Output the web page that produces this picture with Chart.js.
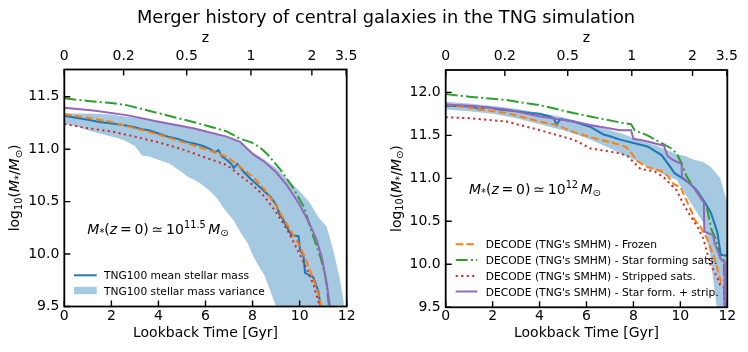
<!DOCTYPE html>
<html>
<head>
<meta charset="utf-8">
<script src="https://cdn.jsdelivr.net/npm/chart.js@4.4.0/dist/chart.umd.min.js"></script>
<style>
html,body{margin:0;padding:0;background:#fff;}
#wrap{position:relative;width:748px;height:352px;overflow:hidden;background:#fff;}
canvas{position:absolute;top:0;}
#title{position:absolute;left:0;width:772px;top:8px;text-align:center;font-family:'DejaVu Sans';font-size:17.8px;line-height:17.8px;color:#000;white-space:nowrap;z-index:5;}
</style>
</head>
<body>
<div id="wrap">
<canvas id="c1" width="374" height="352" style="left:0px"></canvas>
<canvas id="c2" width="374" height="352" style="left:374px"></canvas>
<div id="title">Merger history of central galaxies in the TNG simulation</div>
</div>
<script>
// ---------------- axis ticks ----------------
const xTicks = [0, 2, 4, 6, 8, 10, 12];
const zTickTimes = [0, 2.52, 5.2, 7.93, 10.52, 11.98];
const zTickLabels = ['0', '0.2', '0.5', '1', '2', '3.5'];
const yTicksL = [9.5, 10.0, 10.5, 11.0, 11.5];
const yTicksR = [9.5, 10.0, 10.5, 11.0, 11.5, 12.0];

// ---------------- left panel: M*(z=0) ~ 10^11.5 ----------------
const L_meanT = [0, 0.5, 1.0, 1.5, 2.0, 2.5, 3.0, 3.3, 3.6, 4.0, 4.4, 4.8, 5.2, 5.6, 5.9, 6.2, 6.4, 6.55, 6.7, 6.9, 7.1, 7.2, 7.35, 7.6, 7.9, 8.2, 8.5, 8.75, 9.0, 9.15, 9.3, 9.45, 9.65, 9.95, 10.02, 10.16, 10.23, 10.58, 10.8, 10.95];
const L_meanM = [11.32, 11.30, 11.28, 11.26, 11.245, 11.23, 11.21, 11.19, 11.18, 11.15, 11.12, 11.10, 11.07, 11.05, 11.03, 11.00, 10.97, 10.99, 10.93, 10.90, 10.86, 10.82, 10.86, 10.79, 10.72, 10.66, 10.60, 10.55, 10.47, 10.38, 10.33, 10.26, 10.18, 10.17, 10.04, 9.99, 9.82, 9.78, 9.64, 9.40];
const L_frozenT = [0, 1, 2, 3, 4, 5, 6, 6.9, 7.47, 8.0, 8.5, 9.0, 9.5, 10.0, 10.3, 10.6, 10.8, 11.0];
const L_frozenM = [11.335, 11.30, 11.26, 11.20, 11.14, 11.07, 11.00, 10.93, 10.83, 10.74, 10.62, 10.46, 10.27, 10.08, 9.93, 9.75, 9.62, 9.42];
const L_sfT = [0, 1, 2, 2.65, 4.07, 5.48, 6.9, 7.47, 8.0, 8.3, 8.6, 9.2, 9.7, 10.2, 10.5, 10.9, 11.1, 11.25, 11.3];
const L_sfM = [11.485, 11.46, 11.44, 11.42, 11.34, 11.26, 11.17, 11.10, 11.06, 11.02, 10.96, 10.80, 10.64, 10.44, 10.22, 9.96, 9.78, 9.50, 9.40];
const L_stripT = [0, 1, 2, 3, 4, 5, 6, 6.9, 7.47, 8.0, 8.5, 9.0, 9.5, 10.0, 10.3, 10.6, 10.85, 10.95];
const L_stripM = [11.24, 11.20, 11.17, 11.12, 11.065, 11.00, 10.92, 10.85, 10.75, 10.66, 10.55, 10.40, 10.22, 10.00, 9.86, 9.70, 9.50, 9.40];
const L_sfstT = [0, 1.23, 2.65, 4.07, 5.48, 6.9, 7.47, 8.03, 8.5, 9.0, 9.45, 10.0, 10.4, 10.73, 10.94, 11.15, 11.29, 11.35];
const L_sfstM = [11.395, 11.37, 11.325, 11.26, 11.20, 11.12, 11.07, 10.95, 10.88, 10.78, 10.66, 10.47, 10.30, 10.13, 9.97, 9.72, 9.50, 9.40];
const L_bandT = [0, 0.5, 1, 1.5, 2, 2.5, 3, 3.3, 3.6, 4, 4.5, 5, 5.3, 5.5, 5.8, 6.2, 6.5, 6.7, 6.9, 7.2, 7.5, 7.8, 8, 8.3, 8.5, 8.75, 9, 9.5, 10, 10.4, 10.8, 11.15, 11.45, 11.72, 11.9, 12];
const L_bandHi = [11.34, 11.34, 11.34, 11.335, 11.33, 11.315, 11.30, 11.29, 11.275, 11.26, 11.24, 11.22, 11.205, 11.195, 11.18, 11.16, 11.14, 11.125, 11.11, 11.09, 11.06, 11.01, 10.97, 10.93, 10.90, 10.86, 10.82, 10.71, 10.60, 10.50, 10.35, 10.26, 10.02, 9.75, 9.50, 9.35];
const L_bandLo = [11.24, 11.22, 11.18, 11.15, 11.12, 11.09, 11.03, 10.94, 10.93, 10.90, 10.86, 10.78, 10.73, 10.71, 10.67, 10.60, 10.53, 10.46, 10.40, 10.32, 10.20, 10.10, 9.99, 9.87, 9.80, 9.65, 9.50, 9.20, 9.00, 9.00, 9.00, 9.00, 9.00, 9.00, 9.00, 9.00];

// ---------------- right panel: M*(z=0) ~ 10^12 ----------------
const R_meanT = [0, 0.7, 1.2, 1.46, 1.7, 2.3, 3.0, 3.6, 4.0, 4.44, 4.6, 4.73, 4.87, 5.44, 6.15, 6.72, 7.0, 7.43, 8.0, 8.6, 9.2, 9.5, 9.75, 10.1, 10.4, 10.7, 11.0, 11.3, 11.58, 11.72, 12.0];
const R_meanM = [11.84, 11.84, 11.83, 11.80, 11.83, 11.80, 11.78, 11.76, 11.75, 11.72, 11.70, 11.62, 11.69, 11.66, 11.60, 11.51, 11.49, 11.45, 11.41, 11.37, 11.27, 11.16, 11.06, 11.00, 10.94, 10.86, 10.74, 10.60, 10.37, 10.11, 10.10];
const R_frozenT = [0, 1, 2.6, 4.02, 4.73, 5.44, 6.15, 7.43, 7.7, 7.9, 8.17, 8.6, 9.16, 9.45, 9.73, 10.0, 10.3, 10.5, 10.6, 10.85, 11.15, 11.43, 11.55, 11.72, 11.85, 11.9];
const R_frozenM = [11.86, 11.82, 11.76, 11.66, 11.62, 11.54, 11.48, 11.39, 11.36, 11.30, 11.20, 11.13, 11.09, 11.03, 10.93, 10.90, 10.72, 10.60, 10.52, 10.44, 10.29, 10.09, 9.98, 9.80, 9.78, 9.40];
const R_sfT = [0, 1, 2.6, 4.02, 5.44, 6.15, 7.43, 7.9, 8.05, 8.6, 9.13, 9.6, 9.84, 10.06, 10.27, 10.55, 10.84, 11.12, 11.33, 11.5, 11.72, 11.85, 11.9];
const R_sfM = [11.98, 11.95, 11.91, 11.85, 11.76, 11.72, 11.65, 11.63, 11.56, 11.50, 11.42, 11.35, 11.29, 11.17, 11.02, 10.90, 10.79, 10.67, 10.40, 10.30, 10.05, 10.05, 9.40];
const R_stripT = [0, 1, 2.6, 4.02, 5.44, 6.15, 7.43, 7.74, 8.0, 8.3, 8.9, 9.3, 9.84, 10.13, 10.41, 10.7, 10.98, 11.26, 11.55, 11.7, 11.85, 11.9];
const R_stripM = [11.71, 11.70, 11.66, 11.56, 11.45, 11.35, 11.29, 11.26, 11.19, 11.11, 11.08, 11.01, 10.86, 10.70, 10.57, 10.45, 10.30, 10.01, 9.86, 9.76, 9.74, 9.40];
const R_sfstT = [0, 1.2, 2.6, 4.02, 5.44, 6.15, 7.43, 7.9, 8.0, 8.42, 9.3, 9.45, 9.7, 10.05, 10.07, 10.55, 11.0, 11.02, 11.4, 11.45, 11.75, 11.88, 11.9];
const R_sfstM = [11.86, 11.84, 11.80, 11.72, 11.66, 11.62, 11.56, 11.56, 11.46, 11.44, 11.38, 11.26, 11.21, 11.17, 11.02, 10.90, 10.72, 10.38, 10.34, 10.25, 10.05, 10.03, 9.40];
const R_bandT = [0, 1, 2, 3, 4, 5, 6, 7, 7.5, 8, 8.5, 9, 9.5, 9.85, 10.2, 10.55, 10.98, 11.26, 11.4, 11.55, 11.7, 12];
const R_bandHi = [11.89, 11.87, 11.84, 11.81, 11.76, 11.71, 11.64, 11.56, 11.52, 11.47, 11.42, 11.38, 11.32, 11.28, 11.26, 11.22, 11.19, 11.14, 11.10, 11.05, 11.00, 10.72];
const R_bandLo = [11.80, 11.78, 11.75, 11.70, 11.63, 11.56, 11.47, 11.35, 11.28, 11.22, 11.15, 11.08, 11.02, 10.98, 10.82, 10.67, 10.48, 10.13, 9.82, 9.50, 9.30, 9.20];

// ---------------- styles ----------------
const C = {blue:'#1f77b4', orange:'#ff7f0e', green:'#2ca02c', red:'#d62728', purple:'#9467bd', band:'rgba(31,119,180,0.4)'};
const DASH = {solid:[], dashed:[7.5,3.2], dashdot:[12,3.2,2,3.2], dotted:[2.1,3.4]};
const FONT = "'DejaVu Sans'";
Chart.defaults.font.family = FONT;
Chart.defaults.color = '#000';

function pts(t, m){ return t.map((v,i)=>({x:v, y:m[i]})); }
function lineDs(label, t, m, color, dash){
  return {label, data: pts(t,m), borderColor: color, borderWidth: 2, borderDash: dash,
          pointRadius: 0, fill: false, tension: 0, clip: 0};
}

function drawMath(ctx, parts, x, y, size, measureOnly){
  let cx = x;
  for (const p of parts){
    if (p.gap) cx += p.gap*size;
    const s = (p.sub||p.sup) ? size*0.7 : size;
    ctx.font = (p.it ? 'italic ' : '') + s + 'px ' + FONT;
    const dy = p.sub ? 0.2*size : (p.sup ? -0.42*size : 0);
    if (!measureOnly) ctx.fillText(p.t, cx, y+dy);
    cx += ctx.measureText(p.t).width;
  }
  return cx - x;
}

const yTitleParts = [{t:'log'},{t:'10',sub:true},{t:'('},{t:'M',it:true},{t:'*',sub:true},{t:'/'},{t:'M',it:true},{t:'⊙',sub:true},{t:')'}];

function makePanel(id, P){
  const datasets = [
    lineDs('sfst', P.sfst[0], P.sfst[1], C.purple, DASH.solid),
    lineDs('strip', P.strip[0], P.strip[1], C.red, DASH.dotted),
    lineDs('sf', P.sf[0], P.sf[1], C.green, DASH.dashdot),
    lineDs('frozen', P.frozen[0], P.frozen[1], C.orange, DASH.dashed),
    lineDs('mean', P.mean[0], P.mean[1], C.blue, DASH.solid),
    {label:'bandHi', data: pts(P.band[0], P.band[1]), borderWidth:0, pointRadius:0, fill:'+1', backgroundColor:C.band, borderColor:'rgba(0,0,0,0)', tension:0},
    {label:'bandLo', data: pts(P.band[0], P.band[2]), borderWidth:0, pointRadius:0, fill:false, borderColor:'rgba(0,0,0,0)', tension:0}
  ];
  const deco = {
    id: 'deco'+id,
    afterDraw(chart){
      const ctx = chart.ctx, a = chart.chartArea;
      const sx = chart.scales.x, sy = chart.scales.y, sz = chart.scales.z;
      ctx.save();
      ctx.strokeStyle = '#000'; ctx.setLineDash([]);
      // inward ticks
      ctx.lineWidth = 1.4;
      ctx.beginPath();
      xTicks.forEach(v=>{ const p = sx.getPixelForValue(v); ctx.moveTo(p, a.bottom); ctx.lineTo(p, a.bottom-6); });
      zTickTimes.forEach(v=>{ const p = sz.getPixelForValue(v); ctx.moveTo(p, a.top); ctx.lineTo(p, a.top+6); });
      P.yTicks.forEach(v=>{ const p = sy.getPixelForValue(v); ctx.moveTo(a.left, p); ctx.lineTo(a.left+6, p); });
      ctx.stroke();
      // spines
      ctx.lineWidth = 1.8;
      ctx.strokeRect(a.left, a.top, a.right-a.left, a.bottom-a.top);
      // y title
      ctx.fillStyle = '#000';
      ctx.textBaseline = 'alphabetic'; ctx.textAlign = 'left';
      const w = drawMath(ctx, yTitleParts, 0, 0, 14, true);
      ctx.save();
      ctx.translate(P.yTitleX, (a.top+a.bottom)/2);
      ctx.rotate(-Math.PI/2);
      drawMath(ctx, yTitleParts, -w/2, 0, 14);
      ctx.restore();
      // annotation
      drawMath(ctx, P.note, P.noteX, P.noteY, 14);
      // legend
      P.legendItems.forEach((it, i)=>{
        const by = P.legY[i];
        const hy = by - 4;
        if (it.patch){
          ctx.fillStyle = C.band;
          ctx.fillRect(P.legX0, hy-3.7, P.legX1-P.legX0, 7.4);
        } else {
          ctx.strokeStyle = it.color; ctx.lineWidth = 2; ctx.setLineDash(it.dash);
          ctx.beginPath(); ctx.moveTo(P.legX0, hy); ctx.lineTo(P.legX1, hy); ctx.stroke();
          ctx.setLineDash([]);
        }
        ctx.fillStyle = '#000';
        ctx.font = '10.7px ' + FONT;
        ctx.fillText(it.text, P.legTextX, by);
      });
      ctx.restore();
    }
  };
  return new Chart(document.getElementById(id), {
    type: 'line',
    data: { datasets },
    options: {
      responsive: false, animation: false, devicePixelRatio: 1,
      layout: { padding: { left: 0, right: P.padRight, top: 0, bottom: 0 } },
      plugins: { legend: { display: false }, tooltip: { enabled: false }, title: { display: false } },
      scales: {
        x: { type: 'linear', position: 'bottom', min: 0, max: 12,
             afterBuildTicks: s => { s.ticks = xTicks.map(v=>({value:v})); },
             ticks: { autoSkip: false, minRotation: 0, maxRotation: 0, padding: 1, font: { size: 14 }, color: '#000', callback: v => String(v) },
             grid: { display: false, drawTicks: false, tickLength: 0 }, border: { display: false },
             title: { display: true, text: 'Lookback Time [Gyr]', font: { size: 14 }, color: '#000', padding: { top: 0, bottom: 10 } },
             afterFit: s => { s.height = P.bottomH; } },
        z: { type: 'linear', position: 'top', min: 0, max: 12,
             afterBuildTicks: s => { s.ticks = zTickTimes.map(v=>({value:v})); },
             ticks: { autoSkip: false, minRotation: 0, maxRotation: 0, padding: 5, font: { size: 14 }, color: '#000', callback: (v, i) => zTickLabels[i] },
             grid: { display: false, drawTicks: false, tickLength: 0 }, border: { display: false },
             title: { display: true, text: 'z', font: { size: 14 }, color: '#000', padding: { top: 29.5, bottom: 0 } },
             afterFit: s => { s.height = P.topH; } },
        y: { type: 'linear', position: 'left', min: P.yMin, max: P.yMax,
             afterBuildTicks: s => { s.ticks = P.yTicks.map(v=>({value:v})); },
             ticks: { autoSkip: false, padding: 5, font: { size: 14 }, color: '#000', callback: v => v.toFixed(1) },
             grid: { display: false, drawTicks: false, tickLength: 0 }, border: { display: false },
             afterFit: s => { s.width = P.areaLeft; } }
      }
    },
    plugins: [deco]
  });
}

makePanel('c1', {
  mean:[L_meanT,L_meanM], frozen:[L_frozenT,L_frozenM], sf:[L_sfT,L_sfM], strip:[L_stripT,L_stripM], sfst:[L_sfstT,L_sfstM],
  band:[L_bandT,L_bandHi,L_bandLo],
  yMin: 9.5, yMax: 11.76, yTicks: yTicksL,
  areaLeft: 64.3, padRight: 27.3, topH: 69.5, bottomH: 45.5,
  yTitleX: 19,
  note: [{t:'M',it:true},{t:'*',sub:true},{t:'('},{t:'z',it:true},{t:'=',gap:0.2},{t:'0',gap:0.2},{t:')'},{t:'≃',gap:0.2},{t:'10',gap:0.2},{t:'11.5',sup:true},{t:'M',it:true,gap:0.17},{t:'⊙',sub:true}],
  noteX: 87.3, noteY: 233.5,
  legX0: 74, legX1: 96.7, legTextX: 104, legY: [279.3, 294.5],
  legendItems: [
    {text:'TNG100 mean stellar mass', color:C.blue, dash:DASH.solid},
    {text:'TNG100 stellar mass variance', patch:true}
  ]
});

makePanel('c2', {
  mean:[R_meanT,R_meanM], frozen:[R_frozenT,R_frozenM], sf:[R_sfT,R_sfM], strip:[R_stripT,R_stripM], sfst:[R_sfstT,R_sfstM],
  band:[R_bandT,R_bandHi,R_bandLo],
  yMin: 9.5, yMax: 12.26, yTicks: yTicksR,
  areaLeft: 71.7, padRight: 20.7, topH: 70, bottomH: 44.7,
  yTitleX: 26.5,
  note: [{t:'M',it:true},{t:'*',sub:true},{t:'('},{t:'z',it:true},{t:'=',gap:0.2},{t:'0',gap:0.2},{t:')'},{t:'≃',gap:0.2},{t:'10',gap:0.2},{t:'12',sup:true},{t:'M',it:true,gap:0.17},{t:'⊙',sub:true}],
  noteX: 95, noteY: 193.5,
  legX0: 81.7, legX1: 103.3, legTextX: 111.7, legY: [248.3, 264, 280, 295.5],
  legendItems: [
    {text:"DECODE (TNG's SMHM) - Frozen", color:C.orange, dash:DASH.dashed},
    {text:"DECODE (TNG's SMHM) - Star forming sats.", color:C.green, dash:DASH.dashdot},
    {text:"DECODE (TNG's SMHM) - Stripped sats.", color:C.red, dash:DASH.dotted},
    {text:"DECODE (TNG's SMHM) - Star form. + strip.", color:C.purple, dash:DASH.solid}
  ]
});
</script>
</body>
</html>
